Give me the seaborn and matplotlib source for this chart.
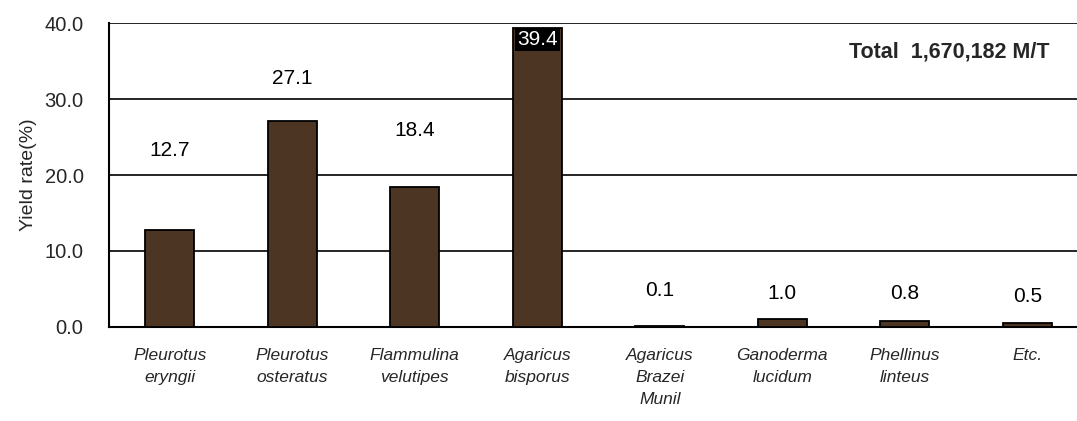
import numpy as np
import pandas as pd
import matplotlib
matplotlib.use("Agg")
import matplotlib.pyplot as plt
import seaborn as sns

species = ["Pleurotus\neryngii", "Pleurotus\nosteratus", "Flammulina\nvelutipes",
           "Agaricus\nbisporus", "Agaricus\nBrazei\nMunil", "Ganoderma\nlucidum",
           "Phellinus\nlinteus", "Etc."]
yield_rate = [12.7, 27.1, 18.4, 39.4, 0.1, 1.0, 0.8, 0.5]
value_labels = ["12.7", "27.1", "18.4", "39.4", "0.1", "1.0", "0.8", "0.5"]
total_text = "Total  1,670,182 M/T"

# label offsets above bar tops (pixels) - the source chart places them unevenly
label_offsets = [80, 43, 57, -12, 36, 26, 27, 27]

sns.set_style("white")
plt.rcParams["font.family"] = ["Liberation Sans", "DejaVu Sans"]

df = pd.DataFrame({"species": species, "yield": yield_rate})

fig = plt.figure(figsize=(10.77, 4.21), dpi=100)
ax = fig.add_axes([108.5 / 1077, 1 - 327 / 421, (1088.5 - 108.5) / 1077, (327 - 23) / 421])

sns.barplot(data=df, x="species", y="yield", color="#4d3524", width=0.4,
            edgecolor="black", linewidth=1.3, saturation=1, ax=ax, zorder=3)

ax.set_ylim(0, 40)
ax.set_xlim(-0.5, 7.5)
ax.set_yticks([0, 10, 20, 30, 40])
ax.set_yticklabels([f"{v:.1f}" for v in [0, 10, 20, 30, 40]], fontsize=14.5)
ax.yaxis.grid(True, color="black", linewidth=1.2)
ax.set_axisbelow(True)
for s in ["top", "right"]:
    ax.spines[s].set_visible(False)
for s in ["left", "bottom"]:
    ax.spines[s].set_color("black")
    ax.spines[s].set_linewidth(1.5)

ax.set_xticks(np.arange(len(species)))
ax.set_xticklabels(species, fontsize=12.5, style="italic", linespacing=1.6, va="top")
ax.tick_params(axis="x", length=0, pad=15)
ax.tick_params(axis="y", length=0, pad=18)
# boundary ticks between categories
ax.set_xticks(np.arange(len(species) + 1) - 0.5, minor=True)
ax.tick_params(axis="x", which="minor", direction="in", length=6, width=1.2, color="black")

ax.set_xlabel("")
ax.set_ylabel("Yield rate(%)", fontsize=14, labelpad=5)

for i, (v, lab, off) in enumerate(zip(yield_rate, value_labels, label_offsets)):
    if off < 0:
        ax.annotate(lab, (i, v), xytext=(0, off), textcoords="offset pixels",
                    ha="center", va="center", fontsize=15, color="white",
                    bbox=dict(boxstyle="square,pad=0.1", fc="black", ec="none"), zorder=5)
    else:
        ax.annotate(lab, (i, v), xytext=(0, off), textcoords="offset pixels",
                    ha="center", va="center", fontsize=15, color="black")

ax.text(0.96, 0.905, total_text, transform=ax.transAxes, ha="right", va="center",
        fontsize=15.5, fontweight="bold")

fig.savefig("out.png", dpi=100)
